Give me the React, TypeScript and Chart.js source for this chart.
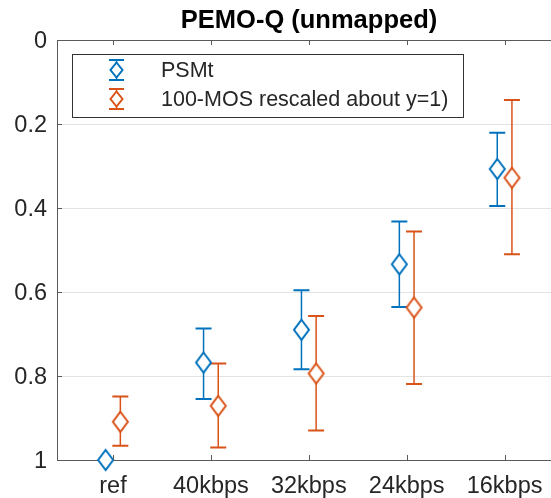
import React, { useEffect, useRef } from 'react';
import { Chart, registerables } from 'chart.js';
Chart.register(...registerables);

const categories = ['ref', '40kbps', '32kbps', '24kbps', '16kbps'];
const psmtMean = [1.0, 0.768, 0.69, 0.534, 0.307];
const psmtLow = [1.0, 0.687, 0.596, 0.432, 0.221];
const psmtHigh = [1.0, 0.855, 0.784, 0.636, 0.395];
const mosMean = [0.909, 0.871, 0.794, 0.637, 0.328];
const mosLow = [0.849, 0.77, 0.657, 0.456, 0.143];
const mosHigh = [0.966, 0.97, 0.93, 0.819, 0.51];
const yTickValues = [0, 0.2, 0.4, 0.6, 0.8, 1];
const yTickLabels = ['0', '0.2', '0.4', '0.6', '0.8', '1'];
const seriesNames = ['PSMt', '100-MOS rescaled about y=1)'];
const titleText = 'PEMO-Q (unmapped)';

const FONT = "'Liberation Sans', Arial, Helvetica, sans-serif";
const COLORS = ['#0072BD', '#D95319'];
const OFFSETS = [-0.075, 0.075];
const AXIS = '#5a5a5a';
const TEXT = '#262626';

function makeDiamond(color: string, hw: number, hh: number, lw: number) {
  const c = document.createElement('canvas');
  const w = Math.ceil(2 * hw + lw * 2);
  const h = Math.ceil(2 * hh + lw * 2);
  c.width = w;
  c.height = h;
  const ctx = c.getContext('2d')!;
  ctx.beginPath();
  ctx.moveTo(w / 2, h / 2 - hh);
  ctx.lineTo(w / 2 + hw, h / 2);
  ctx.lineTo(w / 2, h / 2 + hh);
  ctx.lineTo(w / 2 - hw, h / 2);
  ctx.closePath();
  ctx.fillStyle = '#fff';
  ctx.fill();
  ctx.strokeStyle = color;
  ctx.lineWidth = lw;
  ctx.stroke();
  return c;
}

function drawGlyph(ctx: CanvasRenderingContext2D, x: number, y: number, color: string) {
  ctx.save();
  ctx.strokeStyle = color;
  ctx.lineWidth = 1.5;
  ctx.beginPath();
  ctx.moveTo(x, y - 10);
  ctx.lineTo(x, y + 10);
  ctx.stroke();
  ctx.lineWidth = 2;
  ctx.beginPath();
  ctx.moveTo(x - 7.5, y - 10);
  ctx.lineTo(x + 7.5, y - 10);
  ctx.moveTo(x - 7.5, y + 10);
  ctx.lineTo(x + 7.5, y + 10);
  ctx.stroke();
  ctx.beginPath();
  ctx.moveTo(x, y - 7.5);
  ctx.lineTo(x + 6, y);
  ctx.lineTo(x, y + 7.5);
  ctx.lineTo(x - 6, y);
  ctx.closePath();
  ctx.fillStyle = '#fff';
  ctx.fill();
  ctx.stroke();
  ctx.restore();
}

export default function App() {
  const ref = useRef<HTMLCanvasElement>(null);
  useEffect(() => {
    const canvas = ref.current!;
    const lows = [psmtLow, mosLow];
    const highs = [psmtHigh, mosHigh];
    const means = [psmtMean, mosMean];

    const errorBars = {
      id: 'errorBars',
      beforeDatasetsDraw(chart: any) {
        const ctx = chart.ctx;
        const xs = chart.scales.x;
        const ys = chart.scales.y;
        ctx.save();
        for (let s = 0; s < 2; s++) {
          ctx.strokeStyle = COLORS[s];
          for (let i = 0; i < categories.length; i++) {
            if (lows[s][i] === highs[s][i]) continue;
            const x = xs.getPixelForValue(i + 1 + OFFSETS[s]);
            const y1 = ys.getPixelForValue(lows[s][i]);
            const y2 = ys.getPixelForValue(highs[s][i]);
            ctx.lineWidth = 1.5;
            ctx.beginPath();
            ctx.moveTo(x, y1);
            ctx.lineTo(x, y2);
            ctx.stroke();
            ctx.lineWidth = 2;
            ctx.beginPath();
            ctx.moveTo(x - 8, y1);
            ctx.lineTo(x + 8, y1);
            ctx.moveTo(x - 8, y2);
            ctx.lineTo(x + 8, y2);
            ctx.stroke();
          }
        }
        ctx.restore();
      },
      afterDraw(chart: any) {
        const ctx = chart.ctx;
        const xs = chart.scales.x;
        const ys = chart.scales.y;
        const a = chart.chartArea;
        ctx.save();
        ctx.strokeStyle = AXIS;
        ctx.lineWidth = 1;
        ctx.beginPath();
        xs.ticks.forEach((t: any) => {
          const x = Math.round(xs.getPixelForValue(t.value)) + 0.5;
          ctx.moveTo(x, a.bottom);
          ctx.lineTo(x, a.bottom - 5);
          ctx.moveTo(x, a.top);
          ctx.lineTo(x, a.top + 5);
        });
        ys.ticks.forEach((t: any) => {
          const y = Math.round(ys.getPixelForValue(t.value)) + 0.5;
          ctx.moveTo(a.left, y);
          ctx.lineTo(a.left + 5, y);
        });
        ctx.stroke();
        ctx.fillStyle = '#000';
        ctx.font = `bold 25.5px ${FONT}`;
        ctx.textAlign = 'center';
        ctx.textBaseline = 'alphabetic';
        ctx.fillText(titleText, 309, 28);
        const lx = 72, ly = 54, lw = 391, lh = 63;
        ctx.fillStyle = '#fff';
        ctx.fillRect(lx, ly, lw, lh);
        ctx.strokeStyle = '#333';
        ctx.lineWidth = 1;
        ctx.strokeRect(lx + 0.5, ly + 0.5, lw, lh);
        const rows = [70, 99];
        ctx.font = `21.5px ${FONT}`;
        ctx.textAlign = 'left';
        ctx.textBaseline = 'middle';
        for (let s = 0; s < 2; s++) {
          drawGlyph(ctx, 116.5, rows[s], COLORS[s]);
          ctx.fillStyle = TEXT;
          ctx.fillText(seriesNames[s], 161, rows[s] + 1);
        }
        ctx.restore();
      },
    };

    const fitX = (h: number) => (scale: any) => {
      scale.height = h;
      scale.paddingLeft = 0;
      scale.paddingRight = 0;
    };

    const chart = new Chart(canvas, {
      type: 'scatter',
      data: {
        datasets: [0, 1].map((s) => ({
          label: seriesNames[s],
          data: means[s].map((v, i) => ({ x: i + 1 + OFFSETS[s], y: v })),
          pointStyle: makeDiamond(COLORS[s], 7.5, 10, 2) as any,
          borderColor: COLORS[s],
          backgroundColor: '#fff',
          showLine: false,
          clip: false as any,
        })),
      },
      plugins: [errorBars],
      options: {
        responsive: false,
        animation: false,
        layout: { padding: 0, autoPadding: false },
        plugins: {
          legend: { display: false },
          tooltip: { enabled: false },
          title: { display: false },
        },
        scales: {
          x: {
            type: 'linear',
            position: 'bottom',
            min: 0.428,
            max: 5.474,
            afterBuildTicks: (scale: any) => {
              scale.ticks = categories.map((_, i) => ({ value: i + 1 }));
            },
            afterFit: fitX(38),
            ticks: {
              callback: (v: any) => categories[Math.round(v) - 1],
              font: { family: FONT, size: 23.5 },
              color: TEXT,
              padding: 12,
              maxRotation: 0,
              autoSkip: false,
            },
            grid: { display: true, drawOnChartArea: false, drawTicks: false },
            border: { display: true, color: AXIS, width: 1 },
          },
          x2: {
            type: 'linear',
            position: 'top',
            min: 0.428,
            max: 5.474,
            afterFit: fitX(40),
            ticks: { display: false },
            grid: { display: true, drawOnChartArea: false, drawTicks: false },
            border: { display: true, color: AXIS, width: 1 },
          },
          y: {
            type: 'linear',
            min: 0,
            max: 1,
            reverse: true,
            afterBuildTicks: (scale: any) => {
              scale.ticks = yTickValues.map((v) => ({ value: v }));
            },
            afterFit: (scale: any) => {
              scale.width = 57;
              scale.paddingTop = 0;
              scale.paddingBottom = 0;
            },
            ticks: {
              callback: (_v: any, i: number) => yTickLabels[i],
              font: { family: FONT, size: 23.5 },
              color: TEXT,
              padding: 10,
              labelOffset: 2,
            },
            grid: { color: '#e3e3e3', lineWidth: 1, drawTicks: false },
            border: { display: true, color: AXIS, width: 1 },
          },
        },
      },
    });
    return () => chart.destroy();
  }, []);

  return (
    <div style={{ position: 'fixed', left: 0, top: 0, width: 551, height: 498, background: '#fff' }}>
      <canvas ref={ref} width={551} height={498} style={{ display: 'block' }} />
    </div>
  );
}
